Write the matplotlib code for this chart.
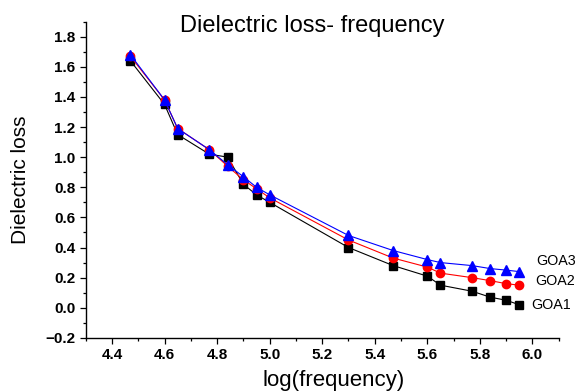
import matplotlib
matplotlib.use("Agg")
import matplotlib.pyplot as plt
from matplotlib.ticker import MultipleLocator

plt.rcParams['font.family'] = ['Liberation Sans', 'DejaVu Sans']

# log10 of the measuring frequency (Hz)
log_freq = [4.47, 4.60, 4.65, 4.77, 4.84, 4.90, 4.95, 5.00,
            5.30, 5.47, 5.60, 5.65, 5.77, 5.84, 5.90, 5.95]

goa1 = [1.64, 1.35, 1.15, 1.02, 1.00, 0.82, 0.75, 0.70,
        0.40, 0.28, 0.21, 0.15, 0.11, 0.07, 0.05, 0.02]
goa2 = [1.67, 1.38, 1.19, 1.05, 0.94, 0.85, 0.79, 0.73,
        0.45, 0.33, 0.27, 0.23, 0.20, 0.18, 0.16, 0.15]
goa3 = [1.68, 1.38, 1.19, 1.05, 0.95, 0.87, 0.80, 0.75,
        0.48, 0.38, 0.32, 0.30, 0.28, 0.26, 0.25, 0.24]

series_names = ['GOA1', 'GOA2', 'GOA3']

fig = plt.figure(figsize=(5.79, 3.92), dpi=100)
ax = fig.add_axes([0.148, 0.138, 0.817, 0.807])

# black squares, red circles, blue triangles (blue on top)
ax.plot(log_freq, goa1, color='black', marker='s', markersize=5.5, lw=0.8)
ax.plot(log_freq, goa2, color='red', marker='o', markersize=6, lw=0.8)
ax.plot(log_freq, goa3, color='blue', marker='^', markersize=6.5, lw=0.8)

# series labels next to the last points
ax.text(5.995, 0.02, series_names[0], fontsize=10.3, va='center', ha='left',
        clip_on=False)
ax.text(6.01, 0.18, series_names[1], fontsize=10.3, va='center', ha='left',
        clip_on=False)
ax.text(6.015, 0.31, series_names[2], fontsize=10.3, va='center', ha='left',
        clip_on=False)

ax.set_xlim(4.3, 6.1)
ax.set_ylim(-0.2, 1.9)
ax.xaxis.set_minor_locator(MultipleLocator(0.1))
ax.yaxis.set_minor_locator(MultipleLocator(0.1))
ax.set_xticks([4.4, 4.6, 4.8, 5.0, 5.2, 5.4, 5.6, 5.8, 6.0])
ax.set_yticks([-0.2, 0.0, 0.2, 0.4, 0.6, 0.8, 1.0, 1.2, 1.4, 1.6, 1.8])

ax.spines['top'].set_visible(False)
ax.spines['right'].set_visible(False)
for s in ['left', 'bottom']:
    ax.spines[s].set_linewidth(1.0)

ax.tick_params(which='major', direction='out', length=4.5, width=0.9, pad=3)
ax.tick_params(which='minor', direction='out', length=2.5, width=0.9)
for lab in ax.get_xticklabels() + ax.get_yticklabels():
    lab.set_fontweight('bold')
    lab.set_fontsize(11)

fig.text(0.54, 0.919, 'Dielectric loss- frequency', fontsize=17,
         ha='center', va='baseline')
fig.text(0.577, 0.015, 'log(frequency)', fontsize=16, ha='center', va='baseline')
fig.text(0.035, 0.541, 'Dielectric loss', fontsize=15, rotation=90,
         ha='center', va='center')

fig.savefig('out.png', dpi=100)
